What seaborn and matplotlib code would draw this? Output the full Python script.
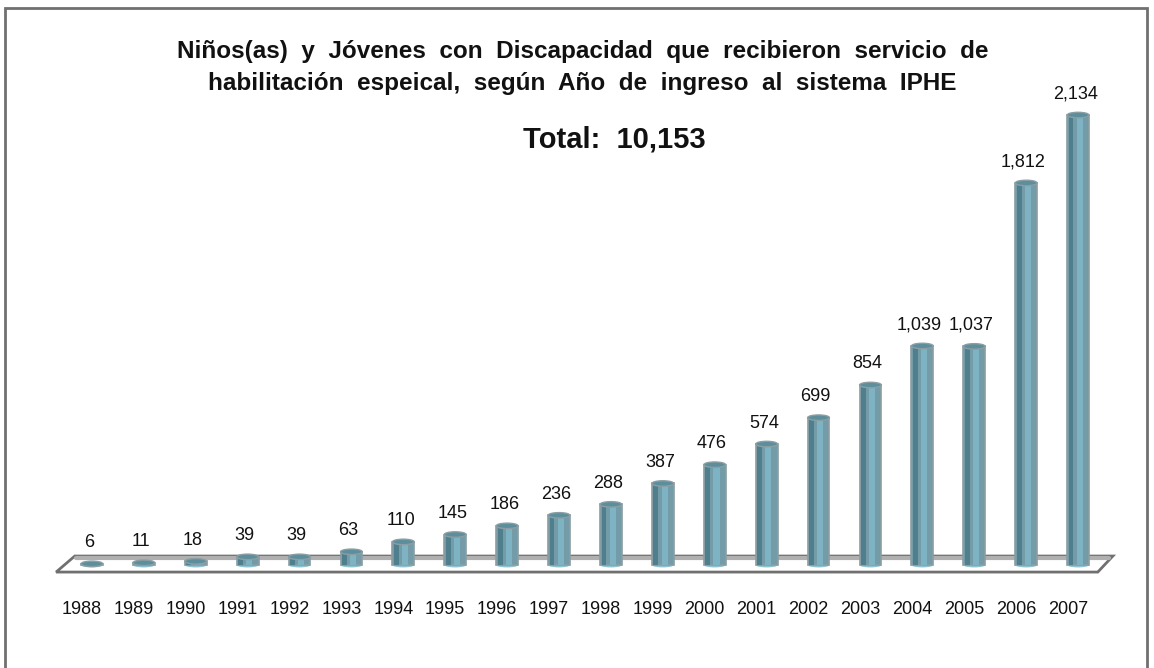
import matplotlib
matplotlib.use("Agg")
import matplotlib.pyplot as plt
import matplotlib.transforms as mtransforms
import seaborn as sns
from matplotlib.patches import Ellipse, Rectangle

years = ["1988", "1989", "1990", "1991", "1992", "1993", "1994", "1995", "1996", "1997",
         "1998", "1999", "2000", "2001", "2002", "2003", "2004", "2005", "2006", "2007"]
students = [6, 11, 18, 39, 39, 63, 110, 145, 186, 236,
            288, 387, 476, 574, 699, 854, 1039, 1037, 1812, 2134]

title_1 = "Niños(as)  y  Jóvenes  con  Discapacidad  que  recibieron  servicio  de"
title_2 = "habilitación  espeical,  según  Año  de  ingreso  al  sistema  IPHE"
total_label = "Total:  10,153"

sns.set_theme(style="white")
plt.rcParams["font.family"] = ["Liberation Sans", "DejaVu Sans"]

fig = plt.figure(figsize=(11.54, 6.68), dpi=100)
ax = fig.add_axes([53 / 1154, 0.1392, 1064 / 1154, 0.711])

bar_w = 0.42
sns.barplot(x=years, y=students, color="#6aa0b1", width=bar_w, ax=ax,
            edgecolor="#8a9ea4", linewidth=1.2, zorder=3)

# cylinder shading: dark left side, light highlight
xs = list(range(len(years)))
ax.bar([x - bar_w * 0.32 for x in xs], students, width=bar_w * 0.22,
       color="#4f7f8d", linewidth=0, zorder=4)
ax.bar([x + bar_w * 0.08 for x in xs], students, width=bar_w * 0.28,
       color="#7db3c3", linewidth=0, zorder=4)
for x, v in zip(xs, students):
    ax.add_patch(Ellipse((x, v), bar_w, 26, facecolor="#5d8e9c",
                         edgecolor="#8a9ea4", linewidth=1, zorder=5))
    ax.add_patch(Ellipse((x, 0), bar_w, 22, facecolor="#8fc3d0",
                         edgecolor="none", zorder=2.5))
    ax.annotate(f"{v:,}", (x, v), xytext=(-2, 9), textcoords="offset points",
                ha="center", va="bottom", fontsize=13, color="#111111")

ax.set_xlim(-0.75, 19.75)
ax.set_ylim(-47, 2205)

# 3D floor
floor_x = [-0.33, 19.67, 19.38, -0.69]
floor_y = [43, 43, -33, -33]
ax.fill(floor_x, floor_y, facecolor="white", edgecolor="#707070", linewidth=2, zorder=1)
ax.plot([-0.3, 19.6], [33, 33], color="#b0b0b0", linewidth=3, zorder=1.5)

for s in ax.spines.values():
    s.set_visible(False)
ax.set_yticks([])
ax.tick_params(axis="x", length=0, pad=19, labelsize=13, colors="#111111")
shift = mtransforms.ScaledTranslation(-10 / 100, 0, fig.dpi_scale_trans)
for lab in ax.get_xticklabels():
    lab.set_transform(lab.get_transform() + shift)
ax.set_xlabel("")
ax.set_ylabel("")
ax.patch.set_alpha(0)

# outer frame
fig.patches.append(Rectangle((5 / 1154, -0.05), 1142 / 1154, 1 - 8 / 668 + 0.05,
                             transform=fig.transFigure, fill=False,
                             edgecolor="#707070", linewidth=2))

fig.text(583 / 1154, 1 - 58 / 668, title_1, ha="center", va="baseline",
         fontsize=17.5, fontweight="bold", color="#111111")
fig.text(582 / 1154, 1 - 90 / 668, title_2, ha="center", va="baseline",
         fontsize=17.5, fontweight="bold", color="#111111")
fig.text(614 / 1154, 1 - 147 / 668, total_label, ha="center", va="baseline",
         fontsize=21, fontweight="bold", color="#111111")

fig.savefig("out.png", dpi=100, facecolor="white")
